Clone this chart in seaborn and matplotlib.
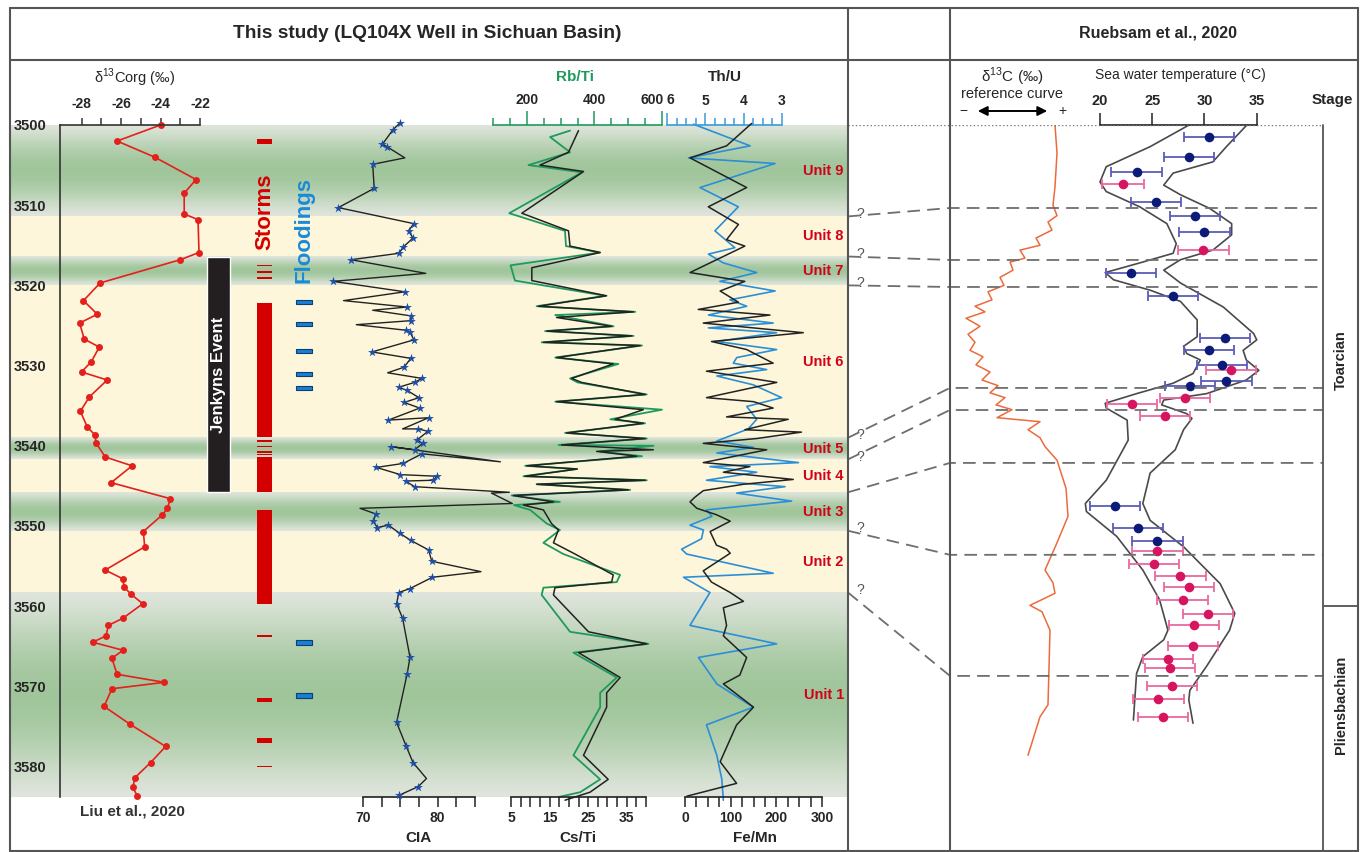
import numpy as np
import matplotlib
matplotlib.use("Agg")
import matplotlib.pyplot as plt
import seaborn as sns

# ---------------- data ----------------
# lithological units of the LQ104X well (depth, m)
unit_names = ["Unit 9", "Unit 8", "Unit 7", "Unit 6", "Unit 5", "Unit 4", "Unit 3", "Unit 2", "Unit 1"]
unit_top = [3500.0, 3511.4, 3516.4, 3520.0, 3539.0, 3541.7, 3545.8, 3550.6, 3558.3]
unit_base = [3511.4, 3516.4, 3520.0, 3539.0, 3541.7, 3545.8, 3550.6, 3558.3, 3583.8]
unit_facies = ["green", "yellow", "green", "yellow", "green", "yellow", "green", "yellow", "green"]

# d13C org (Liu et al., 2020)
d13c_val = [-24.0, -26.2, -24.3, -22.2, -22.8, -22.8, -22.1, -22.05, -23.0, -27.06, -27.9, -27.2,
            -28.1, -27.86, -27.1, -27.5, -28.0, -26.7, -27.6, -28.06, -27.7, -27.3, -27.28, -26.8,
            -25.44, -26.5, -23.5, -23.65, -23.9, -24.87, -24.8, -26.8, -25.9, -25.85, -25.5, -24.9,
            -25.9, -26.64, -26.76, -27.43, -25.9, -26.46, -26.2, -23.8, -26.46, -26.86, -25.56,
            -23.74, -24.5, -25.3, -25.4, -25.17]
d13c_depth = [3500.0, 3502.0, 3504.0, 3506.8, 3508.5, 3511.1, 3511.8, 3515.9, 3516.8, 3519.7, 3521.9,
              3523.6, 3524.7, 3526.7, 3527.7, 3529.5, 3530.8, 3531.8, 3533.9, 3535.7, 3537.7, 3538.7,
              3539.6, 3541.4, 3542.5, 3544.6, 3546.6, 3547.8, 3548.6, 3550.7, 3552.6, 3555.5, 3556.6,
              3557.6, 3558.5, 3559.7, 3561.5, 3562.4, 3563.7, 3564.5, 3565.5, 3566.5, 3568.5, 3569.5,
              3570.3, 3572.5, 3574.7, 3577.5, 3579.5, 3581.4, 3582.6, 3583.7]

# event logs (top, base in m)
jenkyns_event = [(3516.4, 3545.8)]
storm_beds = [(3501.7, 3502.4), (3517.4, 3517.6), (3518.2, 3518.4), (3519.0, 3519.2), (3522.2, 3538.9),
              (3539.3, 3539.5), (3540.0, 3540.2), (3540.7, 3540.85), (3541.0, 3541.15), (3541.4, 3545.8),
              (3548.0, 3559.7), (3563.6, 3563.8), (3571.4, 3572.0), (3576.5, 3577.1), (3579.9, 3580.1)]
flood_beds = [(3521.8, 3522.3), (3524.6, 3525.1), (3527.9, 3528.4), (3530.8, 3531.3), (3532.6, 3533.1),
              (3564.2, 3564.8), (3570.8, 3571.4)]

# CIA (line vertices, star = measured sample)
cia_val = [74.9, 74.0, 72.6, 73.2, 75.6, 71.3, 71.5, 66.7, 76.8, 76.1, 76.7, 75.4, 74.8, 68.4, 78.4, 66.0,
           75.6, 67.4, 75.9, 71.3, 76.4, 76.4, 69.1, 75.8, 76.3, 76.8, 71.2, 76.4, 75.5, 73.3, 77.9, 76.9,
           74.8, 75.9, 77.5, 75.5, 77.6, 73.4, 78.8, 75.3, 77.4, 78.7, 77.2, 78.0, 76.9, 73.7, 88.4, 77.9,
           75.4, 71.8, 75.0, 79.9, 79.4, 75.7, 76.9, 89.6, 87.2, 90.0, 69.6, 71.7, 71.4, 71.9, 73.4, 74.9,
           76.4, 78.8, 79.2, 85.8, 79.3, 76.3, 74.8, 74.5, 75.3, 76.3, 75.9, 74.5, 75.8, 76.7, 78.5, 77.4,
           74.8]
cia_depth = [3499.8, 3500.6, 3502.4, 3502.7, 3504.1, 3504.9, 3507.9, 3510.3, 3512.3, 3513.2, 3514.1,
             3515.2, 3516.0, 3516.8, 3518.5, 3519.5, 3520.8, 3521.9, 3522.7, 3523.1, 3523.8, 3524.4,
             3524.9, 3525.6, 3525.8, 3526.8, 3528.3, 3529.1, 3530.2, 3530.9, 3531.6, 3532.1, 3532.7,
             3533.1, 3534.0, 3534.6, 3535.3, 3536.8, 3536.5, 3537.9, 3537.9, 3538.2, 3539.3, 3539.7,
             3540.5, 3540.1, 3542.0, 3541.0, 3542.2, 3542.7, 3543.6, 3543.8, 3544.3, 3544.4, 3545.1,
             3545.8, 3545.9, 3547.2, 3547.8, 3548.5, 3549.4, 3550.2, 3549.9, 3550.9, 3551.8, 3553.0,
             3554.4, 3555.7, 3556.4, 3557.8, 3558.3, 3559.7, 3561.5, 3566.4, 3568.5, 3574.5, 3577.5,
             3579.5, 3581.5, 3582.5, 3583.6]
cia_star = [1, 1, 1, 1, 0, 1, 1, 1, 1, 1, 1, 1, 1, 1, 0, 1, 1, 0, 1, 0, 1, 1, 0, 1, 1, 1, 1, 1, 1, 0, 1, 1,
            1, 1, 1, 1, 1, 1, 1, 0, 1, 1, 1, 1, 1, 1, 0, 1, 1, 1, 1, 1, 1, 1, 1, 0, 0, 0, 0, 1, 1, 1, 1, 1,
            1, 1, 1, 0, 1, 1, 1, 1, 1, 1, 1, 1, 1, 1, 0, 1, 1]

# Rb/Ti (green) and Cs/Ti (black)
rbti_val = [328, 269, 328, 205, 363, 148, 313, 316, 417, 152, 165, 432, 229, 521, 284, 457, 254, 516, 244,
            541, 284, 471, 328, 350, 555, 284, 600, 447, 550, 313, 555, 294, 575, 417, 541, 195, 348, 190,
            555, 229, 506, 155, 298, 162, 210, 259, 298, 249, 308, 476, 466, 249, 244, 328, 560, 338, 466,
            417, 417, 338, 417, 358, 294]
rbti_depth = [3500.7, 3501.5, 3503.4, 3505.0, 3505.9, 3511.0, 3513.2, 3515.1, 3515.9, 3517.5, 3519.4,
              3521.3, 3522.6, 3523.3, 3523.7, 3525.1, 3525.7, 3526.3, 3527.1, 3527.5, 3529.0, 3529.8,
              3531.6, 3532.1, 3533.6, 3534.5, 3535.5, 3536.7, 3537.2, 3538.4, 3539.1, 3539.9, 3540.0,
              3540.7, 3541.3, 3542.5, 3542.9, 3543.8, 3544.3, 3544.8, 3545.5, 3546.2, 3547.0, 3547.4,
              3548.0, 3549.7, 3550.5, 3552.1, 3553.5, 3556.1, 3557.0, 3557.7, 3558.6, 3563.2, 3564.7,
              3565.8, 3568.9, 3570.8, 3572.6, 3578.6, 3581.6, 3583.2, 3583.8]
csti_val = [22.5, 19.9, 12.5, 23.8, 7.8, 19.9, 20.3, 28.1, 10.4, 10.4, 29.8, 12.1, 36.7, 16.8, 31.1, 14.3,
            36.3, 13.4, 38.5, 16.8, 31.5, 20.7, 23.3, 39.8, 16.8, 39.3, 32.0, 39.3, 19.4, 39.8, 18.1, 41.9,
            27.2, 37.6, 9.1, 22.2, 8.6, 39.8, 11.7, 35.4, 5.6, 16.0, 8.2, 13.4, 15.5, 17.3, 16.0, 21.6,
            31.5, 31.1, 16.4, 16.0, 25.1, 40.2, 22.5, 33.3, 29.8, 29.8, 23.8, 30.2, 25.5, 19.0]
csti_depth = [3500.7, 3503.4, 3505.0, 3505.8, 3511.0, 3513.2, 3515.1, 3515.9, 3517.8, 3519.4, 3521.3,
              3522.6, 3523.3, 3524.0, 3525.1, 3525.7, 3526.3, 3527.1, 3527.5, 3529.0, 3529.8, 3531.6,
              3532.1, 3533.6, 3534.5, 3535.5, 3536.7, 3537.2, 3538.4, 3539.1, 3539.9, 3540.5, 3540.7,
              3541.3, 3542.5, 3542.9, 3543.8, 3544.3, 3544.8, 3545.5, 3546.2, 3547.0, 3547.4, 3548.0,
              3549.7, 3550.5, 3552.1, 3553.5, 3556.1, 3557.0, 3557.7, 3558.6, 3563.2, 3564.7, 3565.8,
              3568.9, 3570.8, 3572.6, 3578.6, 3581.6, 3583.2, 3584.2]

# Th/U (blue) and Fe/Mn (black)
thu_val = [5.31, 3.83, 5.44, 3.18, 5.14, 4.14, 4.75, 4.23, 4.92, 4.53, 3.66, 4.62, 3.18, 4.36, 3.92, 4.92,
           3.23, 4.92, 3.14, 4.70, 3.14, 4.18, 4.27, 3.40, 4.70, 3.75, 3.01, 3.92, 3.66, 3.88, 4.70, 3.75,
           4.70, 2.57, 4.88, 3.66, 4.97, 2.92, 4.18, 2.75, 4.97, 4.83, 5.40, 5.05, 5.10, 5.62, 5.49, 3.23,
           5.57, 4.88, 5.40, 3.14, 5.18, 4.70, 3.75, 4.97, 4.70, 4.57, 4.53]
thu_depth = [3499.9, 3502.6, 3504.1, 3504.8, 3507.8, 3510.2, 3513.2, 3515.3, 3516.1, 3517.2, 3518.4,
             3519.5, 3520.7, 3521.8, 3522.6, 3523.7, 3524.7, 3525.3, 3525.9, 3527.0, 3528.0, 3529.0,
             3529.7, 3530.5, 3531.3, 3532.4, 3534.0, 3535.1, 3536.7, 3537.9, 3539.4, 3540.2, 3540.9,
             3542.1, 3542.6, 3543.3, 3544.3, 3545.1, 3545.9, 3546.9, 3548.0, 3548.8, 3549.9, 3550.5,
             3551.6, 3552.9, 3553.5, 3555.9, 3556.4, 3558.3, 3562.4, 3564.7, 3566.4, 3569.7, 3572.6,
             3574.8, 3578.6, 3581.6, 3584.2]
femn_val = [146, 91, 11, 135, 51, 117, 91, 131, 11, 131, 77, 117, 29, 186, 40, 259, 58, 135, 193, 47, 201,
            47, 150, 193, 91, 226, 131, 255, 157, 40, 179, 40, 142, 84, 237, 128, 40, 22, 11, 26, 69, 99,
            55, 69, 91, 99, 40, 58, 99, 128, 84, 91, 84, 135, 120, 84, 150, 113, 77, 113, 4]
femn_depth = [3499.8, 3502.6, 3504.1, 3507.8, 3510.2, 3512.4, 3514.3, 3515.1, 3518.4, 3519.5, 3520.7,
              3522.1, 3523.0, 3523.7, 3524.7, 3525.9, 3527.0, 3528.0, 3529.7, 3530.7, 3532.1, 3534.0,
              3534.5, 3535.3, 3536.4, 3536.7, 3538.0, 3538.3, 3539.1, 3539.7, 3540.5, 3542.1, 3542.6,
              3543.3, 3544.2, 3544.8, 3545.6, 3546.4, 3547.0, 3547.8, 3548.6, 3549.4, 3550.7, 3552.4,
              3552.9, 3553.4, 3555.6, 3557.0, 3558.3, 3559.4, 3560.2, 3562.4, 3563.7, 3566.4, 3568.6,
              3569.7, 3572.6, 3574.8, 3579.4, 3582.1, 3583.7]

# Ruebsam et al. (2020) reference section (levels expressed on the well depth scale)
ref_curve_val = [100, 102, 100, 98, 102, 93, 97, 81, 85, 65, 70, 55, 58, 45, 49, 33, 37, 20, 30, 11, 25, 13,
                 20, 15, 28, 21, 35, 27, 43, 35, 50, 41, 57, 42, 85, 73, 85, 90, 102, 111, 113, 102, 90, 98,
                 100, 75, 87, 95, 93, 85, 73]
ref_curve_level = [3500.0, 3503.5, 3507.7, 3510.0, 3511.3, 3512.1, 3513.1, 3514.1, 3515.0, 3515.6, 3516.6,
                   3517.1, 3518.1, 3519.0, 3520.0, 3520.8, 3521.8, 3522.6, 3523.3, 3524.1, 3525.1, 3526.1,
                   3527.1, 3528.1, 3528.9, 3529.9, 3530.8, 3531.8, 3532.5, 3533.4, 3534.0, 3534.9, 3535.5,
                   3536.5, 3537.0, 3538.0, 3539.0, 3540.1, 3541.8, 3545.3, 3548.8, 3552.1, 3555.5, 3557.1,
                   3558.4, 3559.9, 3560.7, 3563.0, 3572.3, 3573.8, 3578.6]

temp_val = [30.4, 28.5, 23.5, 22.2, 25.4, 29.1, 30.0, 29.9, 23.0, 27.0, 32.0, 30.4, 31.7, 32.5, 32.1, 28.6,
            28.1, 23.1, 26.2, 21.4, 23.6, 25.5, 25.5, 25.2, 27.7, 28.5, 27.9, 30.3, 29.0, 28.9, 26.5, 26.7,
            26.9, 25.6, 26.0]
temp_level = [3501.5, 3504.0, 3505.8, 3507.3, 3509.6, 3511.4, 3513.3, 3515.6, 3518.4, 3521.3, 3526.6, 3528.1,
              3529.9, 3530.6, 3531.9, 3532.5, 3534.0, 3534.8, 3536.3, 3547.5, 3550.2, 3551.9, 3553.1, 3554.8,
              3556.2, 3557.6, 3559.2, 3561.0, 3562.4, 3565.0, 3566.6, 3567.7, 3569.9, 3571.6, 3573.8]
temp_err = [2.4, 2.4, 2.4, 2.0, 2.4, 2.4, 2.4, 2.4, 2.4, 2.4, 2.4, 2.4, 2.4, 2.4, 2.4, 2.4, 2.4, 2.4, 2.4,
            2.4, 2.4, 2.4, 2.4, 2.4, 2.4, 2.4, 2.4, 2.4, 2.4, 2.4, 2.4, 2.4, 2.4, 2.4, 2.4]
temp_group = ["A", "A", "A", "B", "A", "A", "A", "B", "A", "A", "A", "A", "A", "B", "A", "A", "B", "B", "B",
              "A", "A", "A", "B", "B", "B", "B", "B", "B", "B", "B", "B", "B", "B", "B", "B"]

env_left_t = [28.8, 24.8, 20.6, 20.0, 20.6, 23.8, 26.4, 27.3, 27.0, 23.8, 20.5, 21.3, 24.8, 27.7, 29.3, 29.3,
              28.0, 28.3, 29.6, 28.9, 27.0, 23.5, 20.5, 20.6, 22.6, 22.7, 20.6, 18.6, 18.7, 21.6, 24.1, 25.7,
              26.5, 26.1, 24.1, 23.5, 23.2]
env_left_level = [3499.8, 3502.7, 3505.2, 3507.1, 3508.3, 3510.2, 3512.3, 3514.8, 3516.0, 3517.2, 3518.4,
                  3519.3, 3520.6, 3522.0, 3524.3, 3526.4, 3527.6, 3528.5, 3529.3, 3531.0, 3532.2, 3533.5,
                  3534.7, 3535.3, 3536.8, 3539.3, 3544.3, 3547.2, 3548.2, 3551.3, 3555.5, 3559.2, 3563.0,
                  3564.2, 3566.3, 3568.4, 3574.2]
env_right_t = [34.2, 32.1, 30.8, 27.0, 26.1, 27.7, 30.5, 32.6, 32.6, 30.8, 27.7, 26.1, 27.7, 31.8, 34.7, 35.0,
               33.7, 34.0, 35.2, 34.0, 30.2, 26.1, 25.9, 28.3, 28.8, 28.0, 27.2, 24.8, 24.1, 24.8, 28.0, 31.5,
               32.9, 32.4, 30.2, 28.6, 28.5, 28.9]
env_right_level = [3499.8, 3502.7, 3504.6, 3506.0, 3507.5, 3508.7, 3510.4, 3512.3, 3513.7, 3515.6, 3516.8,
                   3518.1, 3519.7, 3522.7, 3526.0, 3526.8, 3528.1, 3529.3, 3530.6, 3531.8, 3533.5, 3534.3,
                   3534.9, 3536.0, 3536.6, 3538.0, 3540.5, 3543.4, 3547.2, 3549.3, 3552.6, 3557.2, 3560.9,
                   3563.0, 3567.5, 3570.5, 3571.7, 3574.6]

# correlation of unit boundaries with the reference section
tie_depth = [3511.4, 3516.4, 3520.0, 3539.0, 3541.7, 3545.8, 3550.6, 3558.3]
tie_ref_level = [3510.35, 3516.83, 3520.2, 3532.79, 3535.54, 3542.14, 3553.6, 3568.7]
tie_uncertain = [True, True, True, True, True, False, True, True]

stage_names = ["Toarcian", "Pliensbachian"]
stage_base = [3560.0, 3593.0]
stage_label_level = [3529.3, 3572.3]

# ---------------- style ----------------
sns.set_theme(style="white")
plt.rcParams["font.family"] = ["Liberation Sans", "DejaVu Sans"]
plt.rcParams["mathtext.fontset"] = "custom"
plt.rcParams["mathtext.rm"] = "Liberation Sans"
plt.rcParams["axes.unicode_minus"] = False

W, H = 1365, 852
TOP, BOT = 125, 797
DMIN, DMAX = 3500.0, 3583.8

fig = plt.figure(figsize=(W / 100, H / 100), dpi=100)
fig.patch.set_facecolor("white")


def px_axes(x0, x1, y0=TOP, y1=BOT):
    ax = fig.add_axes([x0 / W, 1 - y1 / H, (x1 - x0) / W, (y1 - y0) / H])
    ax.patch.set_alpha(0)
    ax.set_ylim(DMAX, DMIN)
    for s in ax.spines.values():
        s.set_visible(False)
    ax.set_yticks([])
    ax.grid(False)
    return ax


def value_axis(ax, side, color, major, labels, minor, lo, hi, fs=10):
    sp = ax.spines[side]
    sp.set_visible(True)
    sp.set_color(color)
    sp.set_linewidth(1.2)
    sp.set_bounds(lo, hi)
    ax.xaxis.set_ticks_position(side)
    ax.set_xticks(major)
    ax.set_xticklabels(labels, fontsize=fs, fontweight="bold")
    ax.set_xticks(minor, minor=True)
    ax.tick_params(axis="x", which="major", direction="out", length=7, width=1.1, color=color, pad=3)
    ax.tick_params(axis="x", which="minor", direction="out", length=4, width=1.1, color=color)


# ---- background facies bands ----
ax_bg = px_axes(10, 848)
ax_bg.set_xlim(0, 1)
light = np.array([0.875, 0.898, 0.862])
dark = np.array([0.63, 0.776, 0.61])
yellow = np.array([0.996, 0.965, 0.855])
for top, base, fac in zip(unit_top, unit_base, unit_facies):
    if fac == "green":
        t = np.linspace(0, 1, 200)
        w = np.sin(np.pi * t)[:, None] ** 1.3
        img = light * (1 - w) + dark * w
    else:
        img = np.tile(yellow, (2, 1))
    ax_bg.imshow(img[:, None, :], extent=[0, 1, base, top], aspect="auto", origin="upper", zorder=0)
ax_bg.set_ylim(DMAX, DMIN)
ax_bg.set_xticks([])
for name, top, base in zip(unit_names, unit_top, unit_base):
    ax_bg.text(0.995, (top + base) / 2, name, ha="right", va="center", color="#d0021b",
               fontsize=10.5, fontweight="bold")

# ---- d13C org column (also carries the depth axis) ----
ax_c = px_axes(60, 200)
ax_c.set_xlim(-29.09, -22)
value_axis(ax_c, "top", "#333333", [-28, -26, -24, -22], ["-28", "-26", "-24", "-22"],
           [-27, -25, -23], -29.09, -22)
ax_c.tick_params(axis="x", which="major", length=5, pad=5)
ax_c.tick_params(axis="x", which="minor", length=5)
ax_c.spines["left"].set_visible(True)
ax_c.spines["left"].set_color("#333333")
ax_c.spines["left"].set_linewidth(1.2)
ax_c.set_yticks(np.arange(3500, 3581, 10))
ax_c.set_yticklabels([str(v) for v in range(3500, 3581, 10)], fontsize=10.5, fontweight="bold")
ax_c.tick_params(axis="y", direction="out", length=9, width=1.1, color="#333333", pad=1)
sns.lineplot(x=d13c_val, y=d13c_depth, sort=False, estimator=None, ax=ax_c, color="#e3201b",
             lw=1.2, marker="o", markersize=5, markeredgewidth=0, clip_on=False)
ax_c.set_ylim(DMAX, DMIN)
ax_c.set_xlabel("")
ax_c.set_ylabel("")

# ---- event logs ----
ax_e = px_axes(200, 320)
ax_e.set_xlim(200, 320)
for top, base in jenkyns_event:
    ax_e.bar(218.5, base - top, bottom=top, width=23, color="#231f20", zorder=3)
    ax_e.text(218.5, (top + base) / 2, "Jenkyns Event", rotation=90, ha="center", va="center",
              color="white", fontsize=12, fontweight="bold", zorder=4)
for top, base in storm_beds:
    ax_e.bar(264.5, base - top, bottom=top, width=15, color="#d40000", lw=0, zorder=3)
for top, base in flood_beds:
    ax_e.bar(303.5, base - top, bottom=top, width=16, color="#1a7fd4", edgecolor="#0b3f73",
             lw=0.8, zorder=3)
ax_e.text(264.5, 3510.8, "Storms", rotation=90, ha="center", va="center", color="#d40000",
          fontsize=16, fontweight="bold")
ax_e.text(303.5, 3513.1, "Floodings", rotation=90, ha="center", va="center", color="#1a8ad8",
          fontsize=16, fontweight="bold")
ax_e.set_ylim(DMAX, DMIN)
ax_e.set_xticks([])

# ---- CIA ----
ax_cia = px_axes(363, 475)
ax_cia.set_xlim(70, 85)
value_axis(ax_cia, "bottom", "#222222", [70, 80], ["70", "80"], [72.5, 75, 77.5, 82.5, 85], 70, 85)
ax_cia.tick_params(axis="x", which="both", length=7)
sns.lineplot(x=cia_val, y=cia_depth, sort=False, estimator=None, ax=ax_cia, color="#222222",
             lw=1.0, clip_on=False)
star_x = [v for v, s in zip(cia_val, cia_star) if s]
star_y = [d for d, s in zip(cia_depth, cia_star) if s]
sns.scatterplot(x=star_x, y=star_y, ax=ax_cia, marker="*", s=45, color="#1d4fa6", linewidth=0,
                clip_on=False, zorder=4)
ax_cia.set_ylim(DMAX, DMIN)

# ---- Rb/Ti and Cs/Ti ----
ax_rb = px_axes(493, 662)
ax_rb.set_xlim(100, 600)
value_axis(ax_rb, "top", "#1f9a5c", [200, 400, 600], ["200", "400", ""],
           [100, 150, 250, 300, 350, 450, 500, 550], 100, 600)
ax_rb.tick_params(axis="x", which="major", length=10)
ax_rb.tick_params(axis="x", which="minor", length=5)
sns.lineplot(x=rbti_val, y=rbti_depth, sort=False, estimator=None, ax=ax_rb, color="#1f9a5c",
             lw=1.3, clip_on=False)
ax_rb.set_ylim(DMAX, DMIN)

ax_cs = px_axes(511, 646)
ax_cs.set_xlim(5, 40)
value_axis(ax_cs, "bottom", "#222222", [5, 15, 25, 35], ["5", "15", "25", "35"],
           list(np.arange(7.5, 40.1, 2.5)), 5, 40)
ax_cs.tick_params(axis="x", which="both", length=7)
sns.lineplot(x=csti_val, y=csti_depth, sort=False, estimator=None, ax=ax_cs, color="#222222",
             lw=1.1, clip_on=False)
ax_cs.set_ylim(DMAX, DMIN)

# ---- Th/U and Fe/Mn ----
ax_th = px_axes(667, 782)
ax_th.set_xlim(6, 3)
value_axis(ax_th, "top", "#3a9ad9", [6, 5, 4, 3], ["", "5", "4", "3"],
           list(np.arange(3.25, 6.0, 0.25)), 3, 6)
ax_th.tick_params(axis="x", which="major", length=9)
ax_th.tick_params(axis="x", which="minor", length=5)
sns.lineplot(x=thu_val, y=thu_depth, sort=False, estimator=None, ax=ax_th, color="#2a8fd6",
             lw=1.2, clip_on=False)
ax_th.set_ylim(DMAX, DMIN)

ax_fe = px_axes(685, 822)
ax_fe.set_xlim(0, 300)
value_axis(ax_fe, "bottom", "#222222", [0, 100, 200, 300], ["0", "100", "200", "300"],
           list(np.arange(25, 300, 25)), 0, 300)
ax_fe.tick_params(axis="x", which="both", length=7)
sns.lineplot(x=femn_val, y=femn_depth, sort=False, estimator=None, ax=ax_fe, color="#222222",
             lw=1.1, clip_on=False)
ax_fe.set_ylim(DMAX, DMIN)

# ---- Ruebsam et al. 2020 panel ----
ax_ref = px_axes(955, 1075)
ax_ref.set_xlim(0, 120)
ax_ref.set_xticks([])
ax_ref.plot(ref_curve_val, ref_curve_level, color="#ec6a3c", lw=1.1)
ax_ref.set_ylim(DMAX, DMIN)

ax_t = px_axes(950, 1323)
ax_t.set_xlim(5.65, 41.34)
value_axis(ax_t, "top", "#222222", [20, 25, 30, 35], ["20", "25", "30", "35"], [], 20, 35, fs=10.5)
ax_t.tick_params(axis="x", which="major", length=9, pad=3)
ax_t.plot(env_left_t, env_left_level, color="#4a4a4a", lw=1.2)
ax_t.plot(env_right_t, env_right_level, color="#4a4a4a", lw=1.2)
styles = {"A": ("#0c1a78", "#5d5db8"), "B": ("#d6145f", "#e8699e")}
for g, (mc, ec) in styles.items():
    tx = [t for t, gg in zip(temp_val, temp_group) if gg == g]
    ty = [d for d, gg in zip(temp_level, temp_group) if gg == g]
    te = [e for e, gg in zip(temp_err, temp_group) if gg == g]
    ax_t.errorbar(tx, ty, xerr=te, fmt="none", ecolor=ec, elinewidth=1.3, capsize=3.5, capthick=1.3,
                  zorder=3)
    sns.scatterplot(x=tx, y=ty, ax=ax_t, color=mc, s=48, linewidth=0, zorder=4)
ax_t.set_ylim(DMAX, DMIN)

# correlation lines
ax_l = px_axes(848, 1323)
ax_l.set_xlim(848, 1323)
for d0, d1, q in zip(tie_depth, tie_ref_level, tie_uncertain):
    ax_l.plot([848, 950, 1323], [d0, d1, d1], color="#6e6e6e", lw=1.3, dashes=(7, 4))
    if q:
        ax_l.text(860, d0 - 0.35, "?", fontsize=10, color="#555555", ha="center", va="center")
ax_l.plot([848, 1323], [DMIN, DMIN], color="#777777", lw=1, ls=":")
ax_l.set_ylim(DMAX, DMIN)
ax_l.set_xticks([])

# stage column
ax_s = px_axes(1323, 1358)
ax_s.set_xlim(0, 1)
for name, lev in zip(stage_names, stage_label_level):
    ax_s.text(0.5, lev, name, rotation=90, ha="center", va="center", fontsize=10.5, fontweight="bold")
ax_s.plot([0, 1], [stage_base[0], stage_base[0]], color="#444444", lw=1.2)
ax_s.set_ylim(DMAX, DMIN)
ax_s.set_xticks([])

# ---- frame, headers and labels (pixel overlay) ----
ax_f = fig.add_axes([0, 0, 1, 1])
ax_f.set_xlim(0, W)
ax_f.set_ylim(H, 0)
ax_f.axis("off")
ax_f.patch.set_alpha(0)
lc = "#555555"
for x in (10, 848, 950, 1358):
    ax_f.plot([x, x], [8, H], color=lc, lw=1.5)
ax_f.plot([1323, 1323], [TOP, H], color=lc, lw=1.3)
ax_f.plot([10, 1358], [8, 8], color=lc, lw=1.5)
ax_f.plot([10, 1358], [60, 60], color=lc, lw=1.5)
ax_f.plot([10, 1358], [H - 1, H - 1], color=lc, lw=1.5)

ax_f.text(427, 33, "This study (LQ104X Well in Sichuan Basin)", ha="center", va="center",
          fontsize=13.8, fontweight="bold")
ax_f.text(1158, 33, "Ruebsam et al., 2020", ha="center", va="center", fontsize=11.5, fontweight="bold")
ax_f.text(135, 78, r"δ$^{13}$Corg (‰)", ha="center", va="center", fontsize=10.5)
ax_f.text(575, 77, "Rb/Ti", ha="center", va="center", fontsize=11, fontweight="bold", color="#1f9a5c")
ax_f.text(725, 77, "Th/U", ha="center", va="center", fontsize=11, fontweight="bold")
# end labels of the Rb/Ti and Th/U scales (they crowd each other in the original)
ax_f.text(652, 100, "600", ha="center", va="center", fontsize=10, fontweight="bold")
ax_f.text(670, 100, "6", ha="center", va="center", fontsize=10, fontweight="bold")
ax_f.text(132, 811, "Liu et al., 2020", ha="center", va="center", fontsize=11, fontweight="bold",
          color="#333333")
ax_f.text(418, 838, "CIA", ha="center", va="center", fontsize=11, fontweight="bold")
ax_f.text(578, 838, "Cs/Ti", ha="center", va="center", fontsize=11, fontweight="bold")
ax_f.text(755, 838, "Fe/Mn", ha="center", va="center", fontsize=11, fontweight="bold")
ax_f.text(1012, 77, r"δ$^{13}$C (‰)", ha="center", va="center", fontsize=11)
ax_f.text(1012, 94, "reference curve", ha="center", va="center", fontsize=10.5)
ax_f.annotate("", xy=(975, 111), xytext=(1050, 111),
              arrowprops=dict(arrowstyle="<|-|>", color="black", lw=1.4, mutation_scale=14))
ax_f.text(963, 111, "−", ha="center", va="center", fontsize=10)
ax_f.text(1062, 111, "+", ha="center", va="center", fontsize=10)
ax_f.text(1180, 75, "Sea water temperature (°C)", ha="center", va="center", fontsize=10)
ax_f.text(1312, 100, "Stage", ha="left", va="center", fontsize=11, fontweight="bold")

fig.savefig("out.png", dpi=100)
